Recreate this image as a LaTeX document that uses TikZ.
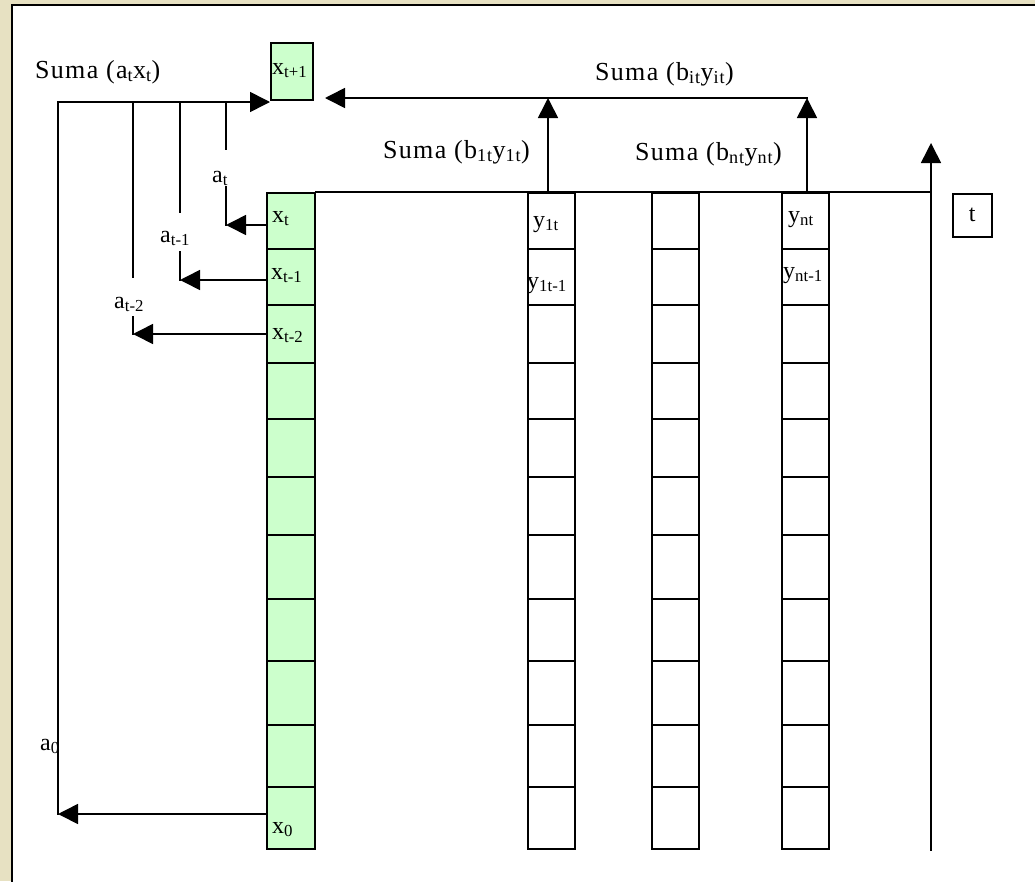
\documentclass[tikz,border=0pt]{standalone}
\usepackage{fontspec}
\setmainfont{Liberation Serif}
\newfontfamily\sumafont[LetterSpace=5]{Liberation Serif}
\usetikzlibrary{arrows.meta}
\definecolor{parch}{RGB}{231,225,194}
\definecolor{cellgreen}{RGB}{204,255,204}
\tikzset{
  conn/.style={line width=1.6pt, line cap=rect},
  tip/.style={conn, -{Triangle[length=20pt,width=20pt]}},
  lbl/.style={font=\fontsize{24}{28}\selectfont, inner sep=0pt, anchor=base west},
  sumlbl/.style={font=\sumafont\fontsize{26}{30}\selectfont, inner sep=0pt, anchor=base west},
  gcell/.style={draw, line width=1.6pt, fill=cellgreen, minimum width=48pt, inner sep=0pt, anchor=north west},
  wcell/.style={draw, line width=1.6pt, fill=white, minimum width=47pt, inner sep=0pt, anchor=north west},
}
\begin{document}
\begin{tikzpicture}[x=1pt,y=-1pt]
\useasboundingbox (0,0) rectangle (1035,881);
\fill[parch] (0,0) rectangle (1035,881);
\fill[white] (12,5) rectangle (1040,890);
\draw[line width=2.4pt] (12,890) -- (12,5) -- (1040,5);

% cell columns
\foreach \t/\b [count=\i] in {192/248,248/304,304/362,362/418,418/476,476/534,534/598,598/660,660/724,724/786,786/848} {
  \node[gcell, minimum height={(\b-\t)*1pt}] (g\i) at (266,\t) {};
  \node[wcell, minimum height={(\b-\t)*1pt}] (ya\i) at (527,\t) {};
  \node[wcell, minimum height={(\b-\t)*1pt}] (yb\i) at (651,\t) {};
  \node[wcell, minimum height={(\b-\t)*1pt}] (yc\i) at (781,\t) {};
}
% x_{t+1} box
\node[gcell, minimum width=42pt, minimum height=57pt] (xn) at (270,42) {};
% t box
\node[draw, line width=1.6pt, fill=white, minimum width=39pt, minimum height=43pt, anchor=north west, inner sep=0pt] (tbox) at (952,193) {};
\node[font=\fontsize{24}{28}\selectfont, inner sep=0pt] (tlab) at (tbox.center) {t};

% cell labels
\node[lbl] (lxn) at (272,74) {x\textsubscript{t+1}};
\node[lbl] (lx1) at (272,222) {x\textsubscript{t}};
\node[lbl] (lx2) at (271,279) {x\textsubscript{t-1}};
\node[lbl] (lx3) at (272,339) {x\textsubscript{t-2}};
\node[lbl] (lx0) at (272,833) {x\textsubscript{0}};
\node[lbl] (ly1) at (533,227) {y\textsubscript{1t}};
\node[lbl] (ly2) at (527,288) {y\textsubscript{1t-1}};
\node[lbl] (yn1) at (788,222) {y\textsubscript{nt}};
\node[lbl] (yn2) at (783,278) {y\textsubscript{nt-1}};

% sum labels
\node[sumlbl] (s1) at (35,78) {Suma (a\textsubscript{t}x\textsubscript{t})};
\node[sumlbl] (s2) at (595,80) {Suma (b\textsubscript{it}y\textsubscript{it})};
\node[sumlbl] (s3) at (383,158) {Suma (b\textsubscript{1t}y\textsubscript{1t})};
\node[sumlbl] (s4) at (635,160) {Suma (b\textsubscript{nt}y\textsubscript{nt})};

% coefficient labels
\node[lbl] (at) at (212,182) {a\textsubscript{t}};
\node[lbl] (at1) at (160,242) {a\textsubscript{t-1}};
\node[lbl] (at2) at (114,308) {a\textsubscript{t-2}};
\node[lbl] (a0) at (40,750) {a\textsubscript{0}};

% coordinates
\coordinate (L0) at (58,102);
\coordinate (L1) at (133,102);
\coordinate (L2) at (180,102);
\coordinate (L3) at (226,102);
\coordinate (T1) at (270,102);
\coordinate (v3) at (226,149);
\coordinate (w3) at (226,187);
\coordinate (v2) at (180,212);
\coordinate (w2) at (180,252);
\coordinate (v1) at (133,277);
\coordinate (w1) at (133,317);
\coordinate (s1a) at (266,225);
\coordinate (e1) at (226,225);
\coordinate (s2a) at (266,280);
\coordinate (e2) at (180,280);
\coordinate (s3a) at (266,334);
\coordinate (e3) at (133,334);
\coordinate (s4a) at (266,814);
\coordinate (e4) at (58,814);
\coordinate (r1) at (548,192);
\coordinate (u1) at (548,98);
\coordinate (r2) at (807,192);
\coordinate (u2) at (807,98);
\coordinate (T2) at (325,98);
\coordinate (r3) at (931,192);
\coordinate (tb) at (931,850);
\coordinate (tt) at (931,143);

% left feedback structure
\draw[tip] (L0) -- (T1);
\draw[conn] (L0) -- (e4);
\draw[conn] (L1) -- (v1);
\draw[conn] (w1) -- (e3);
\draw[conn] (L2) -- (v2);
\draw[conn] (w2) -- (e2);
\draw[conn] (L3) -- (v3);
\draw[conn] (w3) -- (e1);
\draw[tip] (s1a) -- (e1);
\draw[tip] (s2a) -- (e2);
\draw[tip] (s3a) -- (e3);
\draw[tip] (s4a) -- (e4);

% right structure
\draw[conn] (g1.north east) -- (r3);
\draw[tip] (r1) -- (u1);
\draw[tip] (r2) -- (u2);
\draw[tip] (u2) -- (T2);
\draw[tip] (tb) -- (tt);
\end{tikzpicture}
\end{document}
